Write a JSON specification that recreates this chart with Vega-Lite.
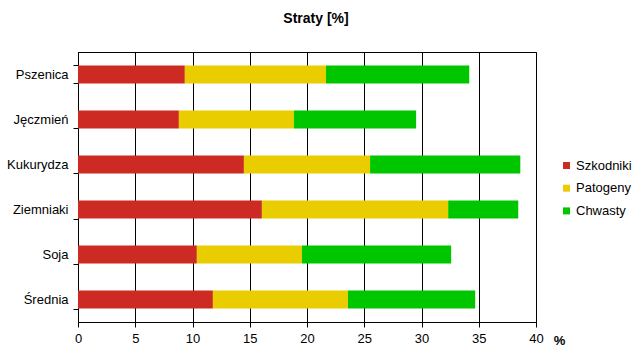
{
  "$schema": "https://vega.github.io/schema/vega-lite/v6.json",
  "autosize": {"type": "none"},
  "padding": {"left": 78, "top": 52, "right": 98, "bottom": 40},
  "width": 458,
  "height": 270,
  "background": "white",
  "title": {"text": "Straty [%]", "font": "Liberation Sans", "fontSize": 14, "fontWeight": "bold", "color": "black", "anchor": "middle", "dx": 9, "offset": 20},
  "config": {
    "view": {"stroke": "black", "strokeWidth": 1},
    "font": "Liberation Sans"
  },
  "data": {
    "values": [
      {"crop": "Pszenica", "type": "Szkodniki", "k": 1, "v": 9.33},
      {"crop": "Pszenica", "type": "Patogeny", "k": 2, "v": 12.33},
      {"crop": "Pszenica", "type": "Chwasty", "k": 3, "v": 12.51},
      {"crop": "Jęczmień", "type": "Szkodniki", "k": 1, "v": 8.81},
      {"crop": "Jęczmień", "type": "Patogeny", "k": 2, "v": 10.05},
      {"crop": "Jęczmień", "type": "Chwasty", "k": 3, "v": 10.67},
      {"crop": "Kukurydza", "type": "Szkodniki", "k": 1, "v": 14.49},
      {"crop": "Kukurydza", "type": "Patogeny", "k": 2, "v": 11.02},
      {"crop": "Kukurydza", "type": "Chwasty", "k": 3, "v": 13.12},
      {"crop": "Ziemniaki", "type": "Szkodniki", "k": 1, "v": 16.06},
      {"crop": "Ziemniaki", "type": "Patogeny", "k": 2, "v": 16.27},
      {"crop": "Ziemniaki", "type": "Chwasty", "k": 3, "v": 6.12},
      {"crop": "Soja", "type": "Szkodniki", "k": 1, "v": 10.38},
      {"crop": "Soja", "type": "Patogeny", "k": 2, "v": 9.18},
      {"crop": "Soja", "type": "Chwasty", "k": 3, "v": 13.03},
      {"crop": "Średnia", "type": "Szkodniki", "k": 1, "v": 11.78},
      {"crop": "Średnia", "type": "Patogeny", "k": 2, "v": 11.80},
      {"crop": "Średnia", "type": "Chwasty", "k": 3, "v": 11.11}
    ]
  },
  "mark": {"type": "bar", "stroke": null},
  "encoding": {
    "y": {
      "field": "crop", "type": "nominal",
      "sort": ["Pszenica", "Jęczmień", "Kukurydza", "Ziemniaki", "Soja", "Średnia"],
      "scale": {"paddingInner": 0.6, "paddingOuter": 0.3},
      "axis": {
        "title": null, "domainColor": "black", "tickColor": "black", "tickSize": 5,
        "tickBand": "extent", "labelFontSize": 13, "labelColor": "black",
        "labelPadding": 5, "labelFont": "Liberation Sans", "grid": false
      }
    },
    "x": {
      "field": "v", "type": "quantitative", "stack": "zero",
      "scale": {"domain": [0, 40], "nice": false},
      "axis": {
        "values": [0, 5, 10, 15, 20, 25, 30, 35, 40],
        "grid": true, "gridColor": "black", "gridOpacity": 1, "gridWidth": 1,
        "domainColor": "black", "tickColor": "black", "tickSize": 5,
        "labelFontSize": 13, "labelColor": "black", "labelPadding": 5,
        "labelFont": "Liberation Sans", "labelFlush": false, "labelOverlap": false,
        "title": "%", "titleFontSize": 13, "titleFontWeight": "bold", "titleColor": "black",
        "titleX": 481, "titleY": 12, "titleAlign": "center", "titleBaseline": "top"
      }
    },
    "color": {
      "field": "type", "type": "nominal",
      "sort": ["Szkodniki", "Patogeny", "Chwasty"],
      "scale": {"domain": ["Szkodniki", "Patogeny", "Chwasty"], "range": ["#CC2A22", "#EACD00", "#00C600"]},
      "legend": {
        "title": null, "orient": "none", "legendX": 482, "legendY": 107,
        "symbolType": "square", "symbolSize": 49, "symbolStrokeWidth": 0,
        "labelFontSize": 13, "labelColor": "black", "labelFont": "Liberation Sans",
        "rowPadding": 8.7, "labelOffset": 3
      }
    },
    "order": {"field": "k", "type": "quantitative"}
  }
}
